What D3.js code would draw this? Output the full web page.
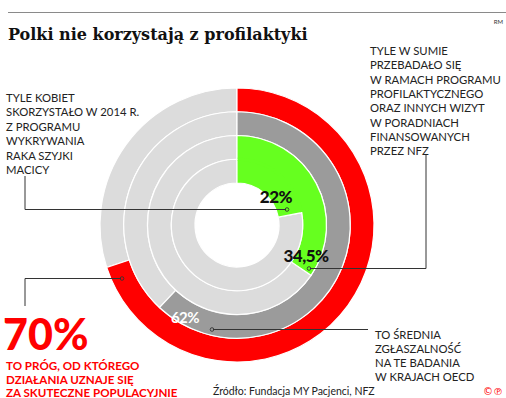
<!DOCTYPE html>
<html><head><meta charset="utf-8">
<script src="https://cdn.jsdelivr.net/npm/d3@7"></script>
<style>
body{margin:0;background:#fff;}
svg{display:block;}
.t{font-family:Lato,"Open Sans",sans-serif;font-size:11.3px;fill:#222;}
</style></head>
<body>
<svg id="c" width="506" height="398"></svg>
<script>
// data
const rings = ["Próg skuteczności", "Średnia OECD", "Suma badań NFZ", "Program 2014"];
const values = [70, 62, 34.5, 22];
const colors = ["#ff0000", "#9b9b9b", "#66ff1f", "#66ff1f"];
const labels = ["70%", "62%", "34,5%", "22%"];
const restColor = "#dcdcdc";

const svg = d3.select("#c");
const cx = 237, cy = 225;
const radius = d3.scaleLinear().domain([0, 4]).range([137, 42]);
const angle = d3.scaleLinear().domain([0, 100]).range([0, 2 * Math.PI]);
const arc = d3.arc();

// top rule
svg.append("line").attr("x1", 8).attr("x2", 506).attr("y1", 12.5).attr("y2", 12.5)
  .attr("stroke", "#8a8a8a").attr("stroke-width", 1.2);
svg.append("text").attr("x", 8).attr("y", 40)
  .style("font-family", "'DejaVu Serif',serif").style("font-weight", "bold").style("font-size", "16px")
  .attr("fill", "#111").text("Polki nie korzystają z profilaktyki");
svg.append("text").attr("x", 503).attr("y", 24).attr("text-anchor", "end")
  .style("font-family", "Lato,sans-serif").style("font-size", "6px").attr("fill", "#333").text("RM");

const g = svg.append("g").attr("transform", `translate(${cx},${cy})`);
values.forEach((v, i) => {
  const ro = radius(i), ri = radius(i + 1);
  g.append("path").attr("d", arc({innerRadius: ri, outerRadius: ro, startAngle: angle(v), endAngle: angle(100)}))
    .attr("fill", restColor).attr("stroke", "#fff").attr("stroke-width", 1.2);
  g.append("path").attr("d", arc({innerRadius: ri, outerRadius: ro, startAngle: 0, endAngle: angle(v)}))
    .attr("fill", colors[i]).attr("stroke", "#fff").attr("stroke-width", 1.2);
});
// green rings merge: cover separator within green
(function(){
  const v = values[3];
  g.append("path").attr("d", arc({innerRadius: radius(3) - 1.5, outerRadius: radius(3) + 1.5, startAngle: 0.01, endAngle: angle(v) - 0.01}))
    .attr("fill", colors[3]);
})();

// connectors
const lineCol = "#333";
function poly(pts){
  svg.append("path").attr("d", d3.line()(pts)).attr("fill", "none").attr("stroke", lineCol).attr("stroke-width", 1);
}
function dot(x, y){
  svg.append("circle").attr("cx", x).attr("cy", y).attr("r", 1.8).attr("fill", "none").attr("stroke", lineCol).attr("stroke-width", 0.9);
}
poly([[25, 176], [25, 209.5], [286, 209.5]]); dot(287, 209.5);
poly([[426, 155], [426, 268.5], [310, 268.5]]); dot(309, 268.5);
poly([[368, 329.5], [213, 329.5]]); dot(212, 329.5);
poly([[25, 306], [25, 278.5], [121, 278.5]]); dot(122, 278.5);

// ring labels
function lbl(x, y, txt, size, fill, weight){
  svg.append("text").attr("x", x).attr("y", y).attr("text-anchor", "middle")
    .style("font-family", "Lato,sans-serif").style("font-weight", weight).style("font-size", size + "px")
    .style("letter-spacing", "-0.5px").attr("fill", fill).text(txt);
}
lbl(276, 203, labels[3], 17, "#111", 900);
lbl(306, 262, labels[2], 17, "#111", 900);
lbl(185, 323, labels[1], 15, "#fff", 700);

// annotations
function block(x, y, lines, lh, extra){
  const t = svg.append("text").attr("class", "t").attr("x", x).attr("y", y);
  if (extra) extra(t);
  lines.forEach((l, i) => t.append("tspan").attr("x", x).attr("dy", i ? lh : 0).text(l));
}
block(6, 102, ["TYLE KOBIET", "SKORZYSTAŁO W 2014 R.", "Z PROGRAMU", "WYKRYWANIA", "RAKA SZYJKI", "MACICY"], 14.4);
block(370, 55, ["TYLE W SUMIE", "PRZEBADAŁO SIĘ", "W RAMACH PROGRAMU", "PROFILAKTYCZNEGO", "ORAZ INNYCH WIZYT", "W PORADNIACH", "FINANSOWANYCH", "PRZEZ NFZ"], 14.3);
block(375, 339, ["TO ŚREDNIA", "ZGŁASZALNOŚĆ", "NA TE BADANIA", "W KRAJACH OECD"], 14);
svg.append("text").attr("x", 3).attr("y", 350)
  .style("font-family", "Lato,sans-serif").style("font-weight", "900").style("font-size", "43px").attr("fill", "#ff0000").text(labels[0]);
block(6, 370, ["TO PRÓG, OD KTÓREGO", "DZIAŁANIA UZNAJE SIĘ", "ZA SKUTECZNE POPULACYJNIE"], 13.5,
  t => t.style("fill", "#ff0000").style("font-weight", "bold").style("font-size", "11.6px"));
svg.append("text").attr("class", "t").attr("x", 213).attr("y", 395).style("font-size", "10.5px").text("Źródło: Fundacja MY Pacjenci, NFZ");
svg.append("text").attr("x", 503).attr("y", 395).attr("text-anchor", "end")
  .style("font-family", "'DejaVu Sans',sans-serif").style("font-size", "10px").attr("fill", "#ff0000").text("©℗");
</script>
</body></html>
